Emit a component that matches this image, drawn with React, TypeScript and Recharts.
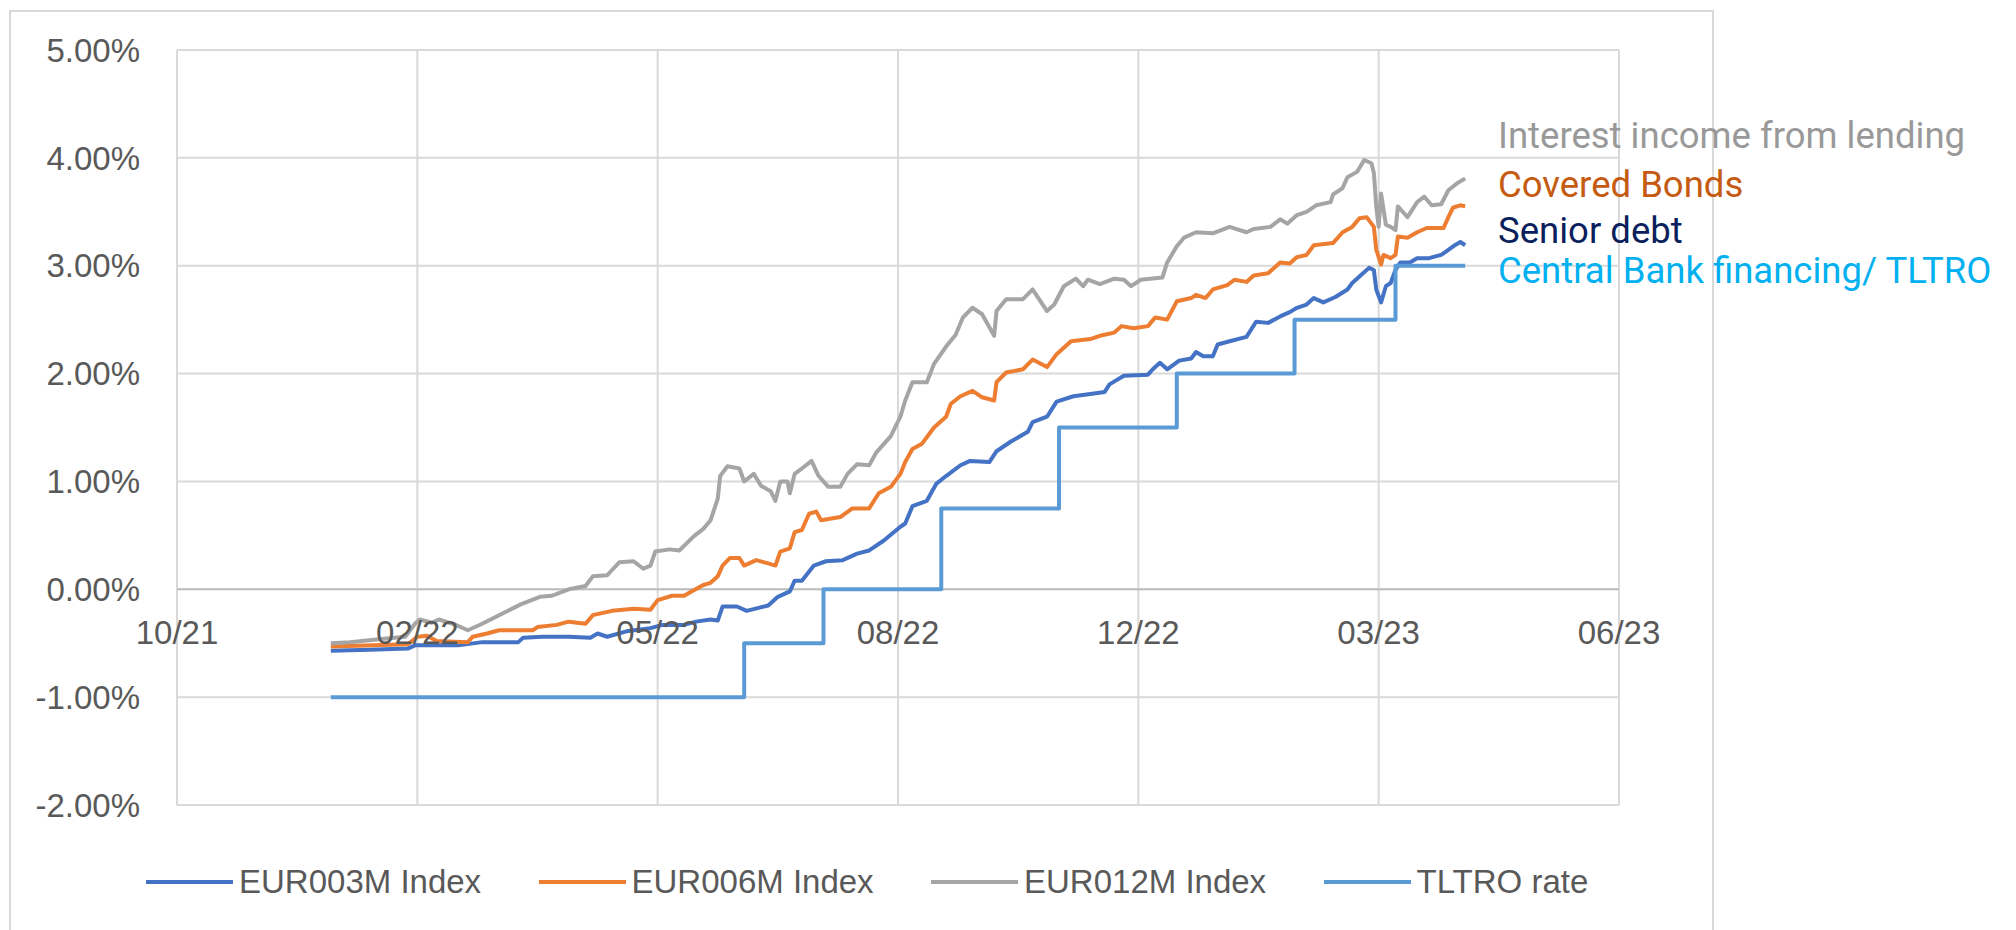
import React from 'react';
import { LineChart, Line, XAxis, YAxis, CartesianGrid, Legend, Customized } from 'recharts';

// ---------- data ----------
const eur3m: [string, number][] = [
  ['2022-01-03', -0.57], ['2022-01-19', -0.56], ['2022-02-04', -0.55], ['2022-02-07', -0.52],
  ['2022-02-25', -0.52], ['2022-03-07', -0.49], ['2022-03-22', -0.49], ['2022-03-24', -0.45],
  ['2022-04-01', -0.44], ['2022-04-12', -0.44], ['2022-04-21', -0.45], ['2022-04-24', -0.41],
  ['2022-04-28', -0.44], ['2022-05-06', -0.39], ['2022-05-16', -0.36], ['2022-05-21', -0.33],
  ['2022-05-30', -0.33], ['2022-06-04', -0.30], ['2022-06-10', -0.28], ['2022-06-13', -0.29],
  ['2022-06-15', -0.16], ['2022-06-21', -0.16], ['2022-06-25', -0.20], ['2022-07-04', -0.15],
  ['2022-07-08', -0.07], ['2022-07-13', -0.02], ['2022-07-15', 0.08], ['2022-07-18', 0.08],
  ['2022-07-23', 0.22], ['2022-07-28', 0.26], ['2022-08-04', 0.27], ['2022-08-10', 0.33],
  ['2022-08-15', 0.36], ['2022-08-21', 0.45], ['2022-08-28', 0.58], ['2022-08-30', 0.61],
  ['2022-09-02', 0.77], ['2022-09-08', 0.82], ['2022-09-12', 0.98], ['2022-09-16', 1.05],
  ['2022-09-22', 1.15], ['2022-09-26', 1.19], ['2022-10-04', 1.18], ['2022-10-07', 1.28],
  ['2022-10-13', 1.37], ['2022-10-20', 1.46], ['2022-10-22', 1.55], ['2022-10-28', 1.60],
  ['2022-11-01', 1.74], ['2022-11-08', 1.79], ['2022-11-15', 1.81], ['2022-11-21', 1.83],
  ['2022-11-23', 1.90], ['2022-11-29', 1.98], ['2022-12-09', 1.99], ['2022-12-11', 2.04],
  ['2022-12-14', 2.10], ['2022-12-17', 2.04], ['2022-12-22', 2.12], ['2022-12-27', 2.14],
  ['2022-12-29', 2.20], ['2023-01-01', 2.16], ['2023-01-05', 2.16], ['2023-01-07', 2.27],
  ['2023-01-12', 2.30], ['2023-01-19', 2.34], ['2023-01-23', 2.48], ['2023-01-28', 2.47],
  ['2023-02-02', 2.53], ['2023-02-06', 2.57], ['2023-02-09', 2.61], ['2023-02-13', 2.64],
  ['2023-02-16', 2.70], ['2023-02-20', 2.66], ['2023-02-25', 2.71], ['2023-03-02', 2.78],
  ['2023-03-04', 2.84], ['2023-03-07', 2.90], ['2023-03-11', 2.98], ['2023-03-13', 2.96],
  ['2023-03-14', 2.78], ['2023-03-16', 2.66], ['2023-03-18', 2.81], ['2023-03-20', 2.84],
  ['2023-03-22', 2.96], ['2023-03-24', 3.03], ['2023-03-28', 3.03], ['2023-03-31', 3.07],
  ['2023-04-05', 3.07], ['2023-04-10', 3.10], ['2023-04-12', 3.13], ['2023-04-15', 3.18],
  ['2023-04-18', 3.22], ['2023-04-20', 3.19],
];

const eur6m: [string, number][] = [
  ['2022-01-03', -0.53], ['2022-02-04', -0.51], ['2022-02-08', -0.44], ['2022-02-12', -0.43],
  ['2022-02-16', -0.48], ['2022-03-01', -0.49], ['2022-03-03', -0.44], ['2022-03-09', -0.41],
  ['2022-03-14', -0.38], ['2022-03-23', -0.38], ['2022-03-28', -0.38], ['2022-03-30', -0.35],
  ['2022-04-07', -0.33], ['2022-04-12', -0.30], ['2022-04-19', -0.32], ['2022-04-22', -0.24],
  ['2022-04-30', -0.20], ['2022-05-09', -0.18], ['2022-05-16', -0.19], ['2022-05-19', -0.10],
  ['2022-05-25', -0.06], ['2022-05-30', -0.06], ['2022-06-03', -0.01], ['2022-06-07', 0.04],
  ['2022-06-10', 0.06], ['2022-06-13', 0.12], ['2022-06-15', 0.22], ['2022-06-18', 0.29],
  ['2022-06-22', 0.29], ['2022-06-24', 0.22], ['2022-06-29', 0.27], ['2022-07-04', 0.24],
  ['2022-07-07', 0.22], ['2022-07-09', 0.35], ['2022-07-13', 0.38], ['2022-07-15', 0.53],
  ['2022-07-18', 0.55], ['2022-07-21', 0.70], ['2022-07-24', 0.72], ['2022-07-26', 0.64],
  ['2022-08-03', 0.67], ['2022-08-08', 0.75], ['2022-08-15', 0.75], ['2022-08-19', 0.89],
  ['2022-08-24', 0.95], ['2022-08-28', 1.07], ['2022-08-30', 1.18], ['2022-09-02', 1.30],
  ['2022-09-06', 1.35], ['2022-09-11', 1.50], ['2022-09-16', 1.60], ['2022-09-18', 1.72],
  ['2022-09-22', 1.79], ['2022-09-27', 1.84], ['2022-10-01', 1.78], ['2022-10-06', 1.75],
  ['2022-10-07', 1.92], ['2022-10-11', 2.01], ['2022-10-18', 2.04], ['2022-10-22', 2.13],
  ['2022-10-28', 2.06], ['2022-11-01', 2.18], ['2022-11-07', 2.30], ['2022-11-15', 2.32],
  ['2022-11-19', 2.35], ['2022-11-25', 2.38], ['2022-11-28', 2.44], ['2022-12-03', 2.42],
  ['2022-12-09', 2.44], ['2022-12-12', 2.52], ['2022-12-17', 2.50], ['2022-12-21', 2.67],
  ['2022-12-27', 2.70], ['2022-12-29', 2.73], ['2023-01-02', 2.70], ['2023-01-05', 2.78],
  ['2023-01-11', 2.82], ['2023-01-14', 2.87], ['2023-01-19', 2.85], ['2023-01-22', 2.91],
  ['2023-01-28', 2.93], ['2023-02-02', 3.03], ['2023-02-06', 3.02], ['2023-02-09', 3.08],
  ['2023-02-13', 3.10], ['2023-02-16', 3.19], ['2023-02-24', 3.21], ['2023-02-28', 3.31],
  ['2023-03-04', 3.36], ['2023-03-07', 3.44], ['2023-03-10', 3.45], ['2023-03-13', 3.36],
  ['2023-03-14', 3.15], ['2023-03-16', 3.01], ['2023-03-17', 3.10], ['2023-03-20', 3.07],
  ['2023-03-22', 3.10], ['2023-03-23', 3.27], ['2023-03-27', 3.26], ['2023-03-31', 3.31],
  ['2023-04-04', 3.35], ['2023-04-11', 3.35], ['2023-04-13', 3.45], ['2023-04-15', 3.54],
  ['2023-04-18', 3.56], ['2023-04-20', 3.55],
];

const eur12m: [string, number][] = [
  ['2022-01-03', -0.50], ['2022-01-11', -0.49], ['2022-01-24', -0.46], ['2022-02-03', -0.44],
  ['2022-02-07', -0.32], ['2022-02-09', -0.28], ['2022-02-14', -0.31], ['2022-02-17', -0.28],
  ['2022-02-24', -0.33], ['2022-03-01', -0.38], ['2022-03-07', -0.32], ['2022-03-14', -0.24],
  ['2022-03-23', -0.14], ['2022-03-31', -0.07], ['2022-04-05', -0.06], ['2022-04-12', 0.00],
  ['2022-04-19', 0.03], ['2022-04-22', 0.12], ['2022-04-28', 0.13], ['2022-05-03', 0.25],
  ['2022-05-09', 0.26], ['2022-05-13', 0.19], ['2022-05-16', 0.22], ['2022-05-18', 0.35],
  ['2022-05-24', 0.37], ['2022-05-28', 0.36], ['2022-06-03', 0.49], ['2022-06-07', 0.56],
  ['2022-06-10', 0.64], ['2022-06-13', 0.84], ['2022-06-14', 1.05], ['2022-06-17', 1.14],
  ['2022-06-22', 1.12], ['2022-06-24', 1.00], ['2022-06-28', 1.07], ['2022-07-01', 0.96],
  ['2022-07-05', 0.91], ['2022-07-07', 0.82], ['2022-07-09', 1.00], ['2022-07-12', 1.00],
  ['2022-07-13', 0.89], ['2022-07-15', 1.07], ['2022-07-18', 1.12], ['2022-07-22', 1.19],
  ['2022-07-25', 1.05], ['2022-07-29', 0.95], ['2022-08-03', 0.95], ['2022-08-06', 1.07],
  ['2022-08-10', 1.16], ['2022-08-15', 1.15], ['2022-08-18', 1.27], ['2022-08-24', 1.42],
  ['2022-08-28', 1.60], ['2022-08-30', 1.75], ['2022-09-02', 1.92], ['2022-09-08', 1.92],
  ['2022-09-11', 2.09], ['2022-09-16', 2.25], ['2022-09-20', 2.36], ['2022-09-23', 2.52],
  ['2022-09-27', 2.61], ['2022-10-01', 2.55], ['2022-10-06', 2.35], ['2022-10-07', 2.58],
  ['2022-10-11', 2.69], ['2022-10-18', 2.69], ['2022-10-22', 2.78], ['2022-10-28', 2.58],
  ['2022-10-31', 2.64], ['2022-11-04', 2.81], ['2022-11-09', 2.88], ['2022-11-12', 2.81],
  ['2022-11-14', 2.87], ['2022-11-19', 2.83], ['2022-11-25', 2.88], ['2022-11-29', 2.87],
  ['2022-12-02', 2.81], ['2022-12-06', 2.87], ['2022-12-15', 2.89], ['2022-12-17', 3.03],
  ['2022-12-21', 3.18], ['2022-12-24', 3.26], ['2022-12-29', 3.31], ['2023-01-05', 3.30],
  ['2023-01-12', 3.36], ['2023-01-19', 3.31], ['2023-01-22', 3.34], ['2023-01-29', 3.36],
  ['2023-02-02', 3.43], ['2023-02-05', 3.39], ['2023-02-09', 3.47], ['2023-02-13', 3.50],
  ['2023-02-17', 3.56], ['2023-02-23', 3.59], ['2023-02-24', 3.66], ['2023-02-28', 3.72],
  ['2023-03-02', 3.82], ['2023-03-06', 3.87], ['2023-03-09', 3.98], ['2023-03-12', 3.95],
  ['2023-03-13', 3.86], ['2023-03-14', 3.55], ['2023-03-15', 3.36], ['2023-03-16', 3.67],
  ['2023-03-18', 3.38], ['2023-03-20', 3.36], ['2023-03-22', 3.33], ['2023-03-23', 3.55],
  ['2023-03-25', 3.50], ['2023-03-27', 3.45], ['2023-03-31', 3.59], ['2023-04-03', 3.64],
  ['2023-04-06', 3.56], ['2023-04-10', 3.57], ['2023-04-13', 3.70], ['2023-04-17', 3.77],
  ['2023-04-20', 3.81],
];

const tltro: [string, number][] = [
  ['2022-01-03', -1.0], ['2022-06-24', -0.5], ['2022-07-27', 0.0], ['2022-09-14', 0.75],
  ['2022-11-02', 1.5], ['2022-12-21', 2.0], ['2023-02-08', 2.5], ['2023-03-22', 3.0],
  ['2023-04-20', 3.0],
];

const seriesNames = ['EUR003M Index', 'EUR006M Index', 'EUR012M Index', 'TLTRO rate'];
const seriesColors = ['#4472C4', '#ED7D31', '#A5A5A5', '#5B9BD5'];

const xTickDates = ['2021-10-31', '2022-02-08', '2022-05-19', '2022-08-27', '2022-12-05', '2023-03-15', '2023-06-23'];
const yTicks = [-2, -1, 0, 1, 2, 3, 4, 5];

const annotationLabels = [
  'Interest income from lending',
  'Covered Bonds',
  'Senior debt',
  'Central Bank financing/ TLTRO',
];
const annotationColors = ['#999999', '#C55A11', '#0A1F5C', '#00B0F0'];

// ---------- helpers ----------
const toSerial = (iso: string) => {
  const [y, m, d] = iso.split('-').map(Number);
  return Date.UTC(y, m - 1, d) / 86400000 + 25569;
};
const fmtDate = (serial: number) => {
  const dt = new Date((serial - 25569) * 86400000);
  const mm = String(dt.getUTCMonth() + 1).padStart(2, '0');
  const yy = String(dt.getUTCFullYear() % 100).padStart(2, '0');
  return `${mm}/${yy}`;
};
const toRows = (arr: [string, number][]) => arr.map(([d, v]) => ({ t: toSerial(d), v }));

const seriesData = [toRows(eur3m), toRows(eur6m), toRows(eur12m), toRows(tltro)];
const xTicks = xTickDates.map(toSerial);

// ---------- layout ----------
const W = 2016;
const H = 930;
const M = { top: 50, right: 397, bottom: 95, left: 0 };
const Y_AXIS_W = 177;
const X_AXIS_H = 30;
const PLOT_H = H - M.top - M.bottom - X_AXIS_H;
const Y_MIN = -2;
const Y_MAX = 5;
const ZERO_Y = M.top + (PLOT_H * Y_MAX) / (Y_MAX - Y_MIN);

const TEXT_FONT = "'Liberation Sans', Arial, sans-serif";
const TEXT_COLOR = '#595959';

const XTick = (props: any) => {
  const { x, payload } = props;
  return (
    <text x={x} y={ZERO_Y + 55} textAnchor="middle" fill={TEXT_COLOR} fontSize={33} fontFamily={TEXT_FONT}>
      {fmtDate(payload.value)}
    </text>
  );
};

const LegendContent = () => (
  <div style={{ display: 'flex', alignItems: 'center', height: 40, fontFamily: TEXT_FONT, fontSize: 33, color: TEXT_COLOR }}>
    {seriesNames.map((n, i) => (
      <div key={n} style={{ display: 'flex', alignItems: 'center', width: i < seriesNames.length - 1 ? 392.5 : 'auto', whiteSpace: 'nowrap' }}>
        <span style={{ display: 'inline-block', width: 87, height: 4, background: seriesColors[i] }} />
        <span style={{ marginLeft: 6 }}>{n}</span>
      </div>
    ))}
  </div>
);

const annotationBaselines = [148, 197, 243, 283];

const Annotations = () => (
  <g>
    {annotationLabels.map((t, i) => (
      <text key={t} x={1498} y={annotationBaselines[i]} fill={annotationColors[i]} fontSize={36.5} fontFamily="Roboto, 'Noto Sans', sans-serif">
        {t}
      </text>
    ))}
  </g>
);

export default function App() {
  return (
    <div style={{ position: 'absolute', left: 0, top: 0, width: W, height: H, overflow: 'hidden', background: '#fff' }}>
      <div style={{ position: 'absolute', left: 9, top: 10, width: 1705, height: 960, border: '2px solid #d9d9d9', boxSizing: 'border-box' }} />
      <div style={{ position: 'absolute', left: 0, top: 0 }}>
        <LineChart width={W} height={H} margin={M}>
          <CartesianGrid stroke="#d9d9d9" strokeWidth={2} />
          <CartesianGrid stroke="#bfbfbf" strokeWidth={2} vertical={false} horizontalValues={[0]} />
          <XAxis
            dataKey="t"
            type="number"
            domain={[xTicks[0], xTicks[xTicks.length - 1]]}
            ticks={xTicks}
            interval={0}
            height={X_AXIS_H}
            axisLine={false}
            tickLine={false}
            tick={<XTick />}
            allowDataOverflow
          />
          <YAxis
            type="number"
            domain={[Y_MIN, Y_MAX]}
            ticks={yTicks}
            interval={0}
            width={Y_AXIS_W}
            axisLine={false}
            tickLine={false}
            tickSize={0}
            tickMargin={37}
            tickFormatter={(v: number) => `${v.toFixed(2)}%`}
            tick={{ fill: TEXT_COLOR, fontSize: 33, fontFamily: TEXT_FONT }}
          />
          {seriesData.map((d, i) => (
            <Line
              key={seriesNames[i]}
              data={d}
              dataKey="v"
              name={seriesNames[i]}
              type={i === 3 ? 'stepAfter' : 'linear'}
              stroke={seriesColors[i]}
              strokeWidth={4}
              dot={false}
              activeDot={false}
              isAnimationActive={false}
              strokeLinejoin="round"
            />
          ))}
          <Legend
            verticalAlign="middle"
            align="center"
            content={<LegendContent />}
            wrapperStyle={{ left: 146, top: 862, width: 1600, height: 40 }}
          />
          <Customized component={<Annotations />} />
        </LineChart>
      </div>
    </div>
  );
}
